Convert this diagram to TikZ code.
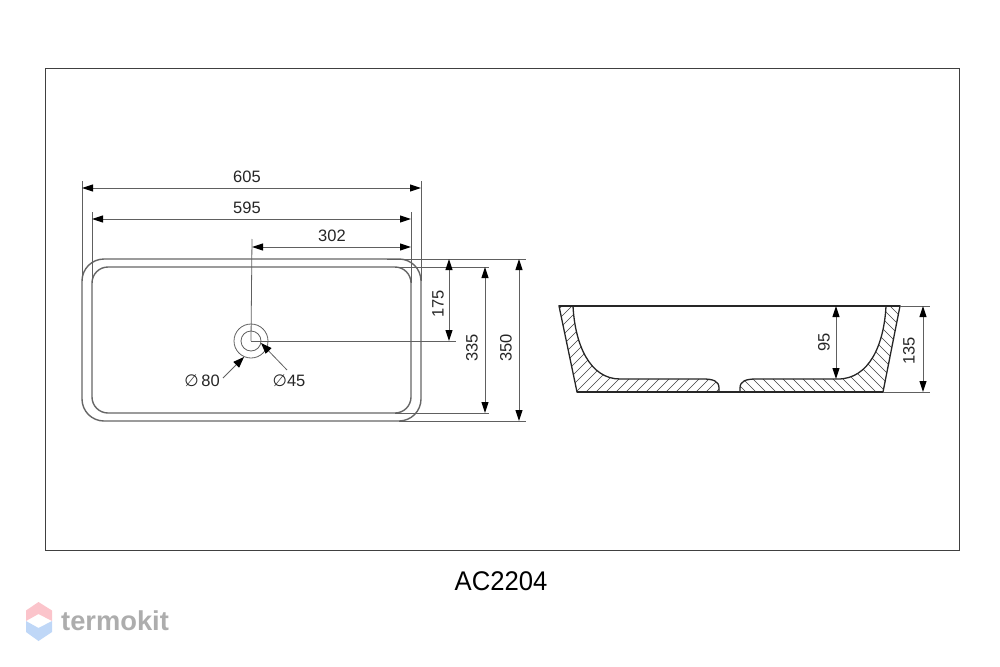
\documentclass[tikz,border=0pt]{standalone}
\usepackage{fontspec}
\setmainfont{Liberation Sans}
\newfontfamily\symfont{DejaVu Sans}
\usetikzlibrary{arrows.meta}
\definecolor{dimgray}{HTML}{606060}
\definecolor{wmpink}{HTML}{FBC4CB}
\definecolor{wmblue}{HTML}{BFD7F7}
\definecolor{wmtext}{HTML}{ADADAD}
\tikzstyle{frame}=[draw=black!75, line width=0.8pt]
\tikzstyle{outline}=[draw=black!60, line width=1.4pt]
\tikzstyle{extline}=[draw=dimgray, line width=0.8pt]
\tikzstyle{dimline}=[draw=dimgray, line width=1pt, {Triangle[length=11pt,width=7pt,color=black]}-{Triangle[length=11pt,width=7pt,color=black]}]
\tikzstyle{leader}=[draw=dimgray, line width=0.8pt, -{Triangle[length=11pt,width=8pt,color=black]}]
\tikzstyle{dimtext}=[font=\fontsize{16.5}{16.5}\selectfont, text=black!85, inner sep=0pt]
\tikzstyle{section}=[draw=black!85, line width=1.3pt]
\tikzstyle{hatch}=[draw=black!75, line width=0.6pt]
\def\leftwall{(559,306) -- (573,306) .. controls (575,345) and (590,379) .. (620,379) -- (703,379) .. controls (713,379) and (719,381) .. (719,388) -- (719,392) -- (577,392) -- cycle}
\def\rightwall{(900,306) -- (886,306) .. controls (884,345) and (869,379) .. (838,379) -- (756,379) .. controls (746,379) and (740,381) .. (740,388) -- (740,392) -- (883,392) -- cycle}
\begin{document}
\begin{tikzpicture}[x=1pt,y=-1pt]
  \useasboundingbox (0,0) rectangle (1000,666);
  \draw [frame] (45,68) rectangle (959,550);

  % plan view
  \draw [outline] (82,281) arc (180:270:22) -- (399,259) arc (270:360:22) -- (421,399) arc (0:90:22) -- (104,421) arc (90:180:22) -- cycle;
  \draw [outline] (92,283) arc (180:270:16) -- (395,267) arc (270:360:16) -- (411,397) arc (0:90:16) -- (108,413) arc (90:180:16) -- cycle;
  \coordinate (drain) at (251,341);
  \draw [extline] (drain) circle (17);
  \draw [extline] (drain) circle (10);

  % extension lines
  \coordinate (a605) at (82,188);
  \coordinate (b605) at (421,188);
  \coordinate (a595) at (92,219);
  \coordinate (b595) at (411,219);
  \coordinate (a302) at (252,247);
  \coordinate (b302) at (411,247);
  \coordinate (a175) at (449,259);
  \coordinate (b175) at (449,341);
  \coordinate (a335) at (485,267);
  \coordinate (b335) at (485,413);
  \coordinate (a350) at (519,259);
  \coordinate (b350) at (519,421);
  \draw [extline] (82,181) -- (82,281);
  \draw [extline] (421,181) -- (421,281);
  \draw [extline] (92,212) -- (92,283);
  \draw [extline] (411,212) -- (411,283);
  \draw [extline] (252,239) -- (drain);
  \draw [extline] (drain) -- (456,341);
  \draw [extline] (387,259) -- (526,259);
  \draw [extline] (395,267) -- (489,267);
  \draw [extline] (395,413) -- (489,413);
  \draw [extline] (399,421) -- (526,421);

  % dimensions
  \draw [dimline] (a605) -- (b605);
  \draw [dimline] (a595) -- (b595);
  \draw [dimline] (a302) -- (b302);
  \draw [dimline] (a175) -- (b175);
  \draw [dimline] (a335) -- (b335);
  \draw [dimline] (a350) -- (b350);
  \node (t605) [dimtext] at (247,177) {605};
  \node (t595) [dimtext] at (247,208) {595};
  \node (t302) [dimtext] at (332,236) {302};
  \node (t175) [dimtext, rotate=90] at (438,304) {175};
  \node (t335) [dimtext, rotate=90] at (472,348) {335};
  \node (t350) [dimtext, rotate=90] at (506,348) {350};

  \node (d80) [dimtext] at (202,381) {{\symfont ∅}\,80};
  \node (d45) [dimtext] at (289,381) {{\symfont ∅}45};
  \coordinate (l80) at (223,378);
  \coordinate (l45) at (287,370);
  \coordinate (p80) at (244,357);
  \coordinate (p45) at (261,343);
  \draw [leader] (l80) -- (p80);
  \draw [leader] (l45) -- (p45);

  % section view
  \begin{scope}
    \clip \leftwall;
    \foreach \hx in {476,486,...,730}
      \draw [hatch] (\hx,392) -- ++(90,-90);
  \end{scope}
  \begin{scope}
    \clip \rightwall;
    \foreach \hx in {986,976,...,730}
      \draw [hatch] (\hx,392) -- ++(-90,-90);
  \end{scope}
  \draw [section] \leftwall;
  \draw [section] \rightwall;
  \draw [section] (559,306) -- (900,306);
  \draw [section] (577,392) -- (883,392);

  \coordinate (a95) at (836,306);
  \coordinate (b95) at (836,379);
  \coordinate (a135) at (923,306);
  \coordinate (b135) at (923,392);
  \draw [extline] (900,306) -- (930,306);
  \draw [extline] (883,392) -- (930,392);
  \draw [dimline] (a95) -- (b95);
  \draw [dimline] (a135) -- (b135);
  \node (t95) [dimtext, rotate=90] at (824,342) {95};
  \node (t135) [dimtext, rotate=90] at (909,351) {135};

  \node (model) [inner sep=0pt, xscale=0.95, font=\fontsize{27}{27}\selectfont] at (501,581) {AC2204};

  % watermark
  \fill [wmblue] (26,621) -- (38.5,628) -- (52,621) -- (52,632) -- (38.5,641) -- (26,632) -- cycle;
  \fill [wmpink] (26,621) -- (38.5,614) -- (52,621) -- (52,610.5) -- (38.5,602) -- (26,610.5) -- cycle;
  \node (brand) [inner sep=0pt, anchor=west, text=wmtext, font=\bfseries\fontsize{27.3}{27.3}\selectfont] at (61,621) {termokit};
\end{tikzpicture}
\end{document}
